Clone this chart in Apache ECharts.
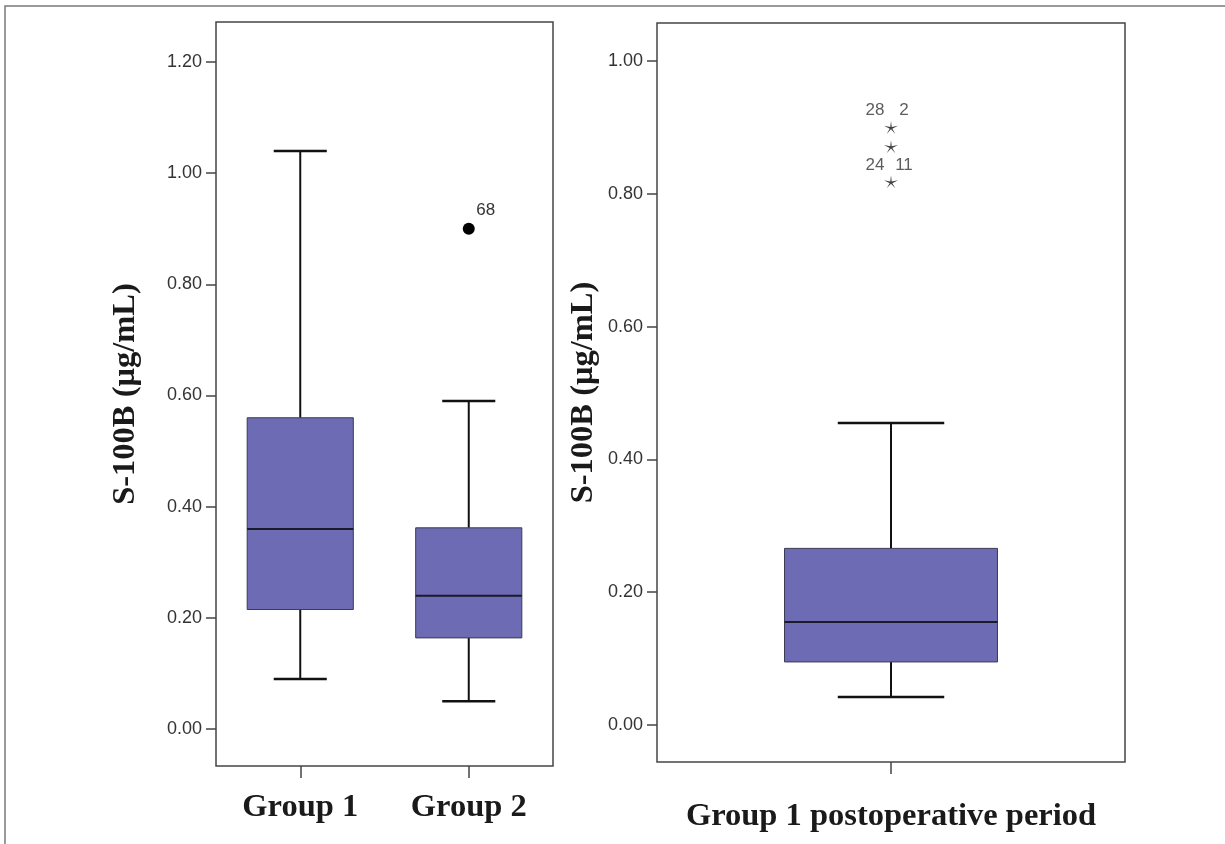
<!DOCTYPE html>
<html><head><meta charset="utf-8">
<script src="https://cdn.jsdelivr.net/npm/echarts@6/dist/echarts.min.js"></script>
<style>html,body{margin:0;padding:0;background:#fff}#c{width:1225px;height:844px}</style>
</head><body><div id="c"></div>
<script>
// ---- data ----
const categoriesLeft = ['Group 1', 'Group 2'];
// [lower whisker, Q1, median, Q3, upper whisker]
const boxLeft = [
  [0.09, 0.215, 0.36, 0.56, 1.04],
  [0.05, 0.164, 0.24, 0.362, 0.59]
];
const outlierLeftCategory = [1];
const outlierLeftValues = [0.90];
const outlierLeftLabels = ['68'];

const categoriesRight = ['Group 1 postoperative period'];
const boxRight = [
  [0.042, 0.095, 0.155, 0.266, 0.455]
];
const extremeRightValues = [0.90, 0.871, 0.818];
const extremeRightLabelsLeft = ['28', '', '24'];
const extremeRightLabelsRight = ['2', '', '11'];

const ticksLeft = [0, 0.2, 0.4, 0.6, 0.8, 1.0, 1.2];
const ticksRight = [0, 0.2, 0.4, 0.6, 0.8, 1.0];
const yTitle = 'S-100B (μg/mL)';

// ---- styles ----
const frameColor = '#454545';
const boxFill = '#6d6bb3';
const serif = "'Liberation Serif', 'DejaVu Serif', serif";
const sans = "'Liberation Sans', Arial, sans-serif";
const starPath = 'path://M10 0 L11 8.5 L19.51 6.91 L11.8 11 L15.88 18.09 L10 11.8 L4.12 18.09 L8.2 11 L0.49 6.91 L9 8.5 Z';

function boxRender(widthRatio) {
  return function (params, api) {
    const cat = api.value(0);
    const lo = api.coord([cat, api.value(1)]);
    const q1 = api.coord([cat, api.value(2)]);
    const md = api.coord([cat, api.value(3)]);
    const q3 = api.coord([cat, api.value(4)]);
    const hi = api.coord([cat, api.value(5)]);
    const band = api.size([1, 0])[0];
    const hw = band * widthRatio / 2;
    const cw = hw / 2;
    const x = lo[0];
    const ws = { stroke: '#111', lineWidth: 2 };
    return {
      type: 'group',
      children: [
        { type: 'line', shape: { x1: x, y1: hi[1], x2: x, y2: q3[1] }, style: ws },
        { type: 'line', shape: { x1: x, y1: q1[1], x2: x, y2: lo[1] }, style: ws },
        { type: 'line', shape: { x1: x - cw, y1: hi[1], x2: x + cw, y2: hi[1] }, style: { stroke: '#111', lineWidth: 2.5 } },
        { type: 'line', shape: { x1: x - cw, y1: lo[1], x2: x + cw, y2: lo[1] }, style: { stroke: '#111', lineWidth: 2.5 } },
        { type: 'rect', shape: { x: x - hw, y: q3[1], width: 2 * hw, height: q1[1] - q3[1] },
          style: { fill: boxFill, stroke: '#3a3a55', lineWidth: 1 } },
        { type: 'line', shape: { x1: x - hw, y1: md[1], x2: x + hw, y2: md[1] }, style: { stroke: '#1a1a2a', lineWidth: 2 } }
      ]
    };
  };
}

function yAxisCfg(gridIndex, min, max, ticks, nameGap) {
  return {
    gridIndex, type: 'value', min, max,
    splitLine: { show: false },
    axisLine: { show: false },
    axisTick: { show: true, length: 10, customValues: ticks, lineStyle: { color: frameColor, width: 1.5 } },
    axisLabel: { customValues: ticks, formatter: v => v.toFixed(2), fontSize: 18, color: '#333', margin: 14, fontFamily: sans },
    name: yTitle, nameLocation: 'middle', nameGap,
    nameTextStyle: { fontFamily: serif, fontWeight: 'bold', fontSize: 32.5, color: '#1a1a1a' }
  };
}
function xAxisCfg(gridIndex, data, margin) {
  return {
    gridIndex, type: 'category', data, boundaryGap: true, position: 'bottom',
    axisLine: { show: false, onZero: false },
    axisTick: { show: true, alignWithLabel: true, length: 12, lineStyle: { color: frameColor, width: 1.5 } },
    axisLabel: { fontFamily: serif, fontWeight: 'bold', fontSize: 32.5, color: '#1a1a1a', margin }
  };
}

const chart = echarts.init(document.getElementById('c'), null, { renderer: 'canvas' });
chart.setOption({
  animation: false,
  backgroundColor: '#fff',
  graphic: [{
    type: 'rect', shape: { x: 5, y: 6, width: 1240, height: 860 },
    style: { fill: 'none', stroke: '#7a7a7a', lineWidth: 1.5 }, silent: true
  }],
  grid: [
    { left: 216, top: 22, width: 337, height: 744, show: true, borderColor: frameColor, borderWidth: 1.5, backgroundColor: 'transparent' },
    { left: 657, top: 23, width: 468, height: 739, show: true, borderColor: frameColor, borderWidth: 1.5, backgroundColor: 'transparent' }
  ],
  xAxis: [xAxisCfg(0, categoriesLeft, 25), xAxisCfg(1, categoriesRight, 38)],
  yAxis: [yAxisCfg(0, -0.0665, 1.272, ticksLeft, 74), yAxisCfg(1, -0.0557, 1.0572, ticksRight, 57)],
  series: [
    {
      type: 'custom', xAxisIndex: 0, yAxisIndex: 0,
      renderItem: boxRender(0.63),
      encode: { x: 0, y: [1, 2, 3, 4, 5] },
      data: boxLeft.map((b, i) => [i].concat(b))
    },
    {
      type: 'scatter', xAxisIndex: 0, yAxisIndex: 0,
      symbol: 'circle', symbolSize: 12, itemStyle: { color: '#000', opacity: 1 },
      data: outlierLeftValues.map((v, i) => [outlierLeftCategory[i], v]),
      label: { show: true, position: 'inside', offset: [17, -18], formatter: p => outlierLeftLabels[p.dataIndex],
        fontFamily: sans, fontSize: 17, color: '#333' }
    },
    {
      type: 'custom', xAxisIndex: 1, yAxisIndex: 1,
      renderItem: boxRender(0.455),
      encode: { x: 0, y: [1, 2, 3, 4, 5] },
      data: boxRight.map((b, i) => [i].concat(b))
    },
    {
      type: 'scatter', xAxisIndex: 1, yAxisIndex: 1,
      symbol: starPath, symbolSize: [14, 13], itemStyle: { color: '#111' },
      data: extremeRightValues.map(v => [0, v]),
      label: { show: true, position: 'inside', offset: [-16, -17], formatter: p => extremeRightLabelsLeft[p.dataIndex],
        fontFamily: sans, fontSize: 17, color: '#333' }
    },
    {
      type: 'scatter', xAxisIndex: 1, yAxisIndex: 1,
      symbol: 'circle', symbolSize: 4, itemStyle: { color: 'rgba(0,0,0,0)' },
      data: extremeRightValues.map(v => [0, v]),
      label: { show: true, position: 'inside', offset: [13, -17], formatter: p => extremeRightLabelsRight[p.dataIndex],
        fontFamily: sans, fontSize: 17, color: '#333' }
    }
  ]
});
</script>
</body></html>
